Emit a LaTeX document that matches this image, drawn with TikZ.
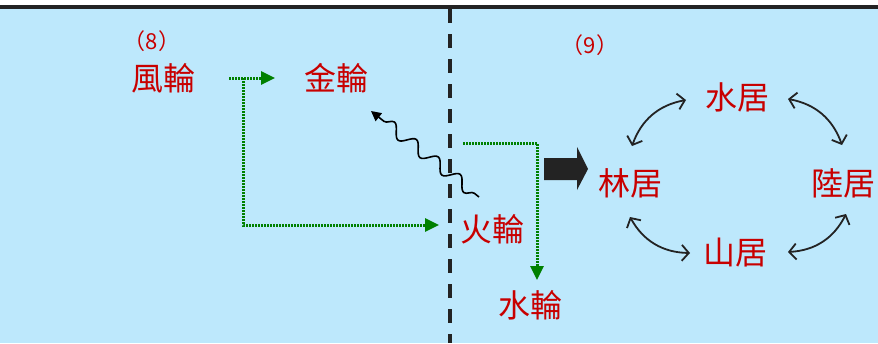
\documentclass[tikz,border=0pt]{standalone}
\usepackage{fontspec}
\newfontfamily\cjk{Noto Sans CJK TC}
\usetikzlibrary{arrows.meta,decorations.pathmorphing}
\definecolor{bgblue}{RGB}{189,232,252}
\definecolor{txtred}{RGB}{200,0,0}
\definecolor{grn}{RGB}{0,128,0}
\definecolor{dark}{RGB}{35,35,35}
\tikzset{
  lbl/.style={text=txtred,font=\cjk\fontsize{32}{36}\selectfont,inner sep=0pt},
  num/.style={text=txtred,font=\cjk\fontsize{22}{26}\selectfont,inner sep=0pt},
  grnarrow/.style={draw=grn,line width=3pt,dash pattern=on 2pt off 1pt,-{Triangle[length=14pt,width=13pt]}},
  cyc/.style={draw=dark,line width=1.8pt,{Straight Barb[length=7pt,width=16pt]}-{Straight Barb[length=7pt,width=16pt]}}
}
\begin{document}
\begin{tikzpicture}[x=1pt,y=-1pt]
\useasboundingbox (0,0) rectangle (878,343);
\fill[white] (0,0) rectangle (878,343);
\fill[bgblue] (0,7) rectangle (878,343);
\draw[dark,line width=4pt] (0,7) -- (878,7);
\draw[dark,line width=4pt,dash pattern=on 14pt off 11pt] (450,9) -- (450,343);

\node[num] (n8) at (152,41) {（8）};
\node[num] (n9) at (590,45) {（9）};

\node[lbl] (feng) at (163,78) {風輪};
\node[lbl] (jin) at (336,78) {金輪};
\node[lbl] (huo) at (492,229) {火輪};
\node[lbl] (shui) at (530,305) {水輪};

\node[lbl] (sj) at (737,97) {水居};
\node[lbl] (lj) at (630,183) {林居};
\node[lbl] (luj) at (843,183) {陸居};
\node[lbl] (shj) at (735,253) {山居};

% green dotted arrows
\coordinate (g1) at (229,78);
\coordinate (g2) at (243,78);
\coordinate (g3) at (243,225);
\coordinate (g4) at (439,225);
\coordinate (g5) at (275,78);
\draw[grnarrow] (g1) -- (g5);
\draw[grnarrow] (g2) -- (g3) -- (g4);
\coordinate (h1) at (463,143);
\coordinate (h2) at (537,143);
\coordinate (h3) at (537,280);
\draw[grnarrow] (h1) -- (h2) -- (h3);

% wavy arrow
\coordinate (w1) at (479,197);
\coordinate (w2) at (371,111);
\draw[black,line width=1.6pt,-{Triangle[length=10pt,width=10pt]},
  decorate,decoration={snake,amplitude=6pt,segment length=28pt,pre length=6pt,post length=10pt}] (w1) -- (w2);

% thick arrow
\fill[dark] (544,158) -- (577,158) -- (577,147) -- (588,169) -- (577,190) -- (577,180) -- (544,180) -- cycle;

% cycle arrows
\coordinate (a1) at (632,146);
\coordinate (a2) at (686,100);
\coordinate (b1) at (788,99);
\coordinate (b2) at (842,145);
\coordinate (c1) at (630,217);
\coordinate (c2) at (690,253);
\coordinate (d1) at (788,252);
\coordinate (d2) at (846,214);
\draw[cyc] (a1) to[bend left=30] (a2);
\draw[cyc] (b1) to[bend left=30] (b2);
\draw[cyc] (c1) to[bend right=30] (c2);
\draw[cyc] (d1) to[bend right=30] (d2);
\end{tikzpicture}
\end{document}
